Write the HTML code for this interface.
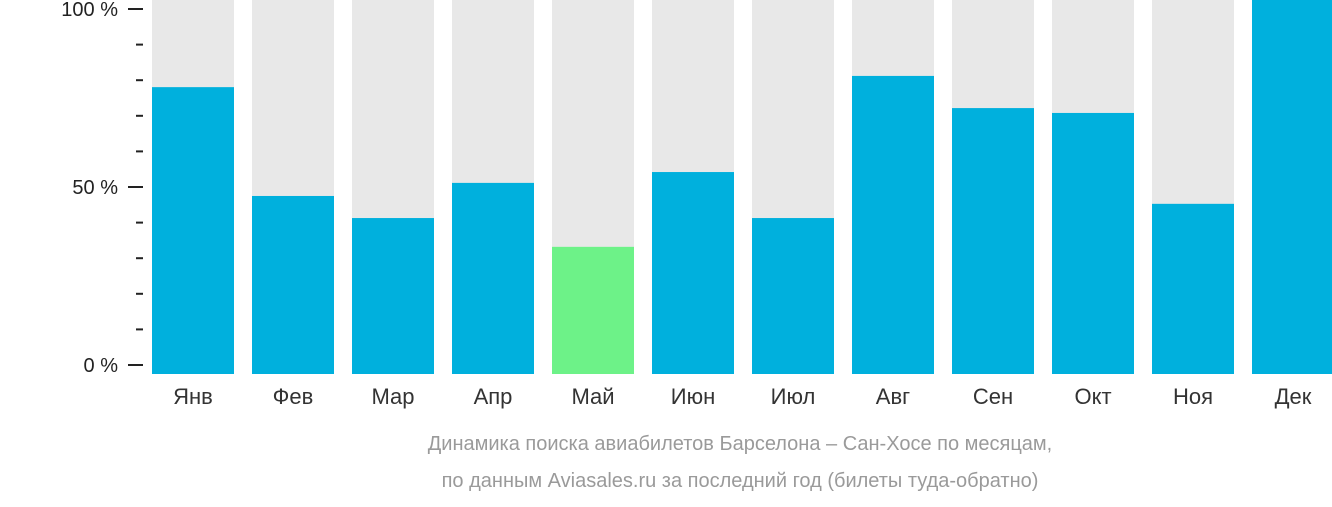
<!DOCTYPE html>
<html><head><meta charset="utf-8"><style>
body{margin:0;width:1332px;height:502px;background:#fff;overflow:hidden;font-family:"Liberation Sans","DejaVu Sans",sans-serif}
</style></head><body>
<svg id="chart" width="1332" height="502" xmlns="http://www.w3.org/2000/svg">
<g id="axis"></g>
<g id="bars"></g>
<g id="xlabels"></g>
<text x="740" y="450" text-anchor="middle" font-size="20" fill="#9a9a9a">Динамика поиска авиабилетов Барселона – Сан-Хосе по месяцам,</text>
<text x="740" y="487" text-anchor="middle" font-size="20" fill="#9a9a9a">по данным Aviasales.ru за последний год (билеты туда-обратно)</text>
</svg>
<script>
const months = ["Янв","Фев","Мар","Апр","Май","Июн","Июл","Авг","Сен","Окт","Ноя","Дек"];
const values = [76.7,47.6,41.7,51.1,34.0,54.0,41.7,79.7,71.1,69.8,45.5,100];
const highlight = [false,false,false,false,true,false,false,false,false,false,false,false];
const tickValues = [0,50,100];
const tickLabels = ["0 %","50 %","100 %"];
const NS="http://www.w3.org/2000/svg";
const bottom=374, fullH=374, x0=152, pitch=100, bw=82;
const yBar=v=>bottom-v/100*fullH;
const yTick=v=>365-v/100*356;
const xBar=i=>x0+i*pitch;
function mk(t,a,p){const e=document.createElementNS(NS,t);for(const k in a)e.setAttribute(k,a[k]);p.appendChild(e);return e;}
const ax=document.getElementById('axis');
for(let i=0;i<=10;i++){const v=i*10;const major=i%5===0;
 const l=mk('line',{x1:major?128:136,x2:143,y1:yTick(v),y2:yTick(v),stroke:'#222','stroke-width':2},ax);
 
 }
tickValues.forEach((v,i)=>{const t=mk('text',{x:118,y:yTick(v)+7,'text-anchor':'end','font-size':20,fill:'#222'},ax);t.textContent=tickLabels[i];
 
 });
const bg=document.getElementById('bars'), xl=document.getElementById('xlabels');
months.forEach((m,i)=>{
 const b=mk('rect',{x:xBar(i),y:0,width:bw,height:bottom,fill:'#e8e8e8'},bg);
 
 
 const r=mk('rect',{x:xBar(i),y:yBar(values[i]),width:bw,height:bottom-yBar(values[i]),fill:highlight[i]?'#6df288':'#00b0dd'},bg);
 
 
 const t=mk('text',{x:xBar(i)+bw/2,y:404,'text-anchor':'middle','font-size':22,fill:'#333'},xl);t.textContent=m;
 
 
});
</script>
</body></html>
